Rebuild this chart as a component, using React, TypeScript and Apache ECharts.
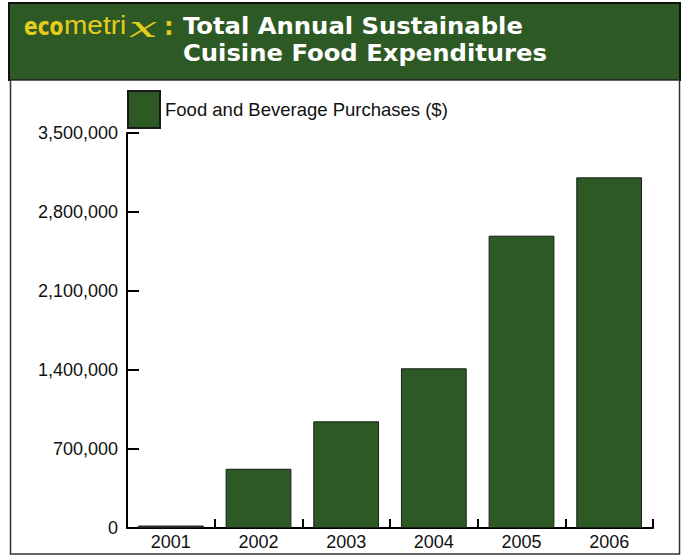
import React, { useEffect, useRef } from "react";
import * as echarts from "echarts";

const years = ["2001", "2002", "2003", "2004", "2005", "2006"];
const purchases = [22000, 525000, 945000, 1415000, 2590000, 3107000];
const seriesName = "Food and Beverage Purchases ($)";
const titleLines = ["Total Annual Sustainable", "Cuisine Food Expenditures"];

const GREEN = "#2d5925";
const YELLOW = "#e6cc1c";

export default function App() {
  const ref = useRef<HTMLDivElement>(null);
  useEffect(() => {
    if (!ref.current) return;
    const chart = echarts.init(ref.current, null, { renderer: "svg" });
    const titleText = (text: string, y: number) => ({
      type: "text",
      z: 5,
      x: 183,
      y,
      scaleX: 1.056,
      style: {
        text,
        x: 0,
        y: 0,
        fill: "#ffffff",
        fontSize: 23,
        fontWeight: "bold",
        lineHeight: 23,
        fontFamily: "'DejaVu Sans', sans-serif",
        verticalAlign: "middle",
      },
    });
    chart.setOption({
      animation: false,
      backgroundColor: "#ffffff",
      graphic: [
        {
          type: "rect",
          z: 0,
          shape: { x: 9, y: 3, width: 671, height: 77 },
          style: { fill: GREEN, stroke: "#111", lineWidth: 2 },
        },
        {
          type: "rect",
          z: 0,
          shape: { x: 10.5, y: 80, width: 669, height: 474 },
          style: { fill: "#ffffff", stroke: "#333", lineWidth: 1.5 },
        },
        {
          type: "text",
          z: 5,
          x: 24,
          y: 26,
          scaleX: 0.84,
          style: {
            text: "eco",
            x: 0,
            y: 0,
            fill: YELLOW,
            fontSize: 24,
            fontWeight: "bold",
            lineHeight: 22,
            fontFamily: "'DejaVu Sans', sans-serif",
            verticalAlign: "middle",
          },
        },
        {
          type: "text",
          z: 5,
          x: 64,
          y: 26,
          scaleX: 1.12,
          style: {
            text: "metri",
            x: 0,
            y: 0,
            fill: YELLOW,
            fontSize: 25,
            fontWeight: "normal",
            lineHeight: 22,
            fontFamily: "'Liberation Sans', Arial, sans-serif",
            verticalAlign: "middle",
          },
        },
        {
          type: "text",
          z: 5,
          x: 129,
          y: 27,
          scaleX: 1.8,
          style: {
            text: "x",
            x: 0,
            y: 0,
            fill: YELLOW,
            fontSize: 28,
            fontStyle: "italic",
            lineHeight: 22,
            fontFamily: "'DejaVu Serif', serif",
            verticalAlign: "middle",
          },
        },
        {
          type: "text",
          z: 5,
          x: 164,
          y: 27,
          style: {
            text: ":",
            x: 0,
            y: 0,
            fill: YELLOW,
            fontSize: 24,
            fontWeight: "bold",
            lineHeight: 22,
            fontFamily: "'DejaVu Sans', sans-serif",
            verticalAlign: "middle",
          },
        },
        titleText(titleLines[0], 26.5),
        titleText(titleLines[1], 53.5),
      ],
      legend: {
        show: true,
        left: 127,
        top: 90,
        padding: 0,
        itemWidth: 32,
        itemHeight: 37,
        itemGap: 6,
        icon: "rect",
        textStyle: {
          fontSize: 18.5,
          color: "#111",
          fontFamily: "'Liberation Sans', Arial, sans-serif",
        },
        data: [seriesName],
      },
      grid: { left: 127, right: 28, top: 133, bottom: 28, containLabel: false },
      xAxis: {
        type: "category",
        data: years,
        boundaryGap: true,
        axisLine: { show: true, lineStyle: { color: "#000", width: 2 } },
        axisTick: { show: true, inside: true, length: 9, lineStyle: { color: "#000", width: 2 } },
        axisLabel: {
          fontSize: 18,
          color: "#111",
          margin: 5,
          fontFamily: "'Liberation Sans', Arial, sans-serif",
        },
      },
      yAxis: {
        type: "value",
        min: 0,
        max: 3500000,
        interval: 700000,
        splitLine: { show: false },
        axisLine: { show: true, lineStyle: { color: "#000", width: 2 } },
        axisTick: { show: true, inside: true, length: 12, lineStyle: { color: "#000", width: 2 } },
        axisLabel: {
          fontSize: 18,
          color: "#111",
          margin: 9,
          fontFamily: "'Liberation Sans', Arial, sans-serif",
          formatter: (v: number) => v.toLocaleString("en-US"),
        },
      },
      series: [
        {
          name: seriesName,
          type: "bar",
          data: purchases,
          barWidth: "75%",
          itemStyle: { color: GREEN, borderColor: "#1a1a1a", borderWidth: 1 },
        },
      ],
    });
    return () => chart.dispose();
  }, []);
  return (
    <div
      ref={ref}
      style={{ position: "fixed", left: 0, top: 0, width: 681, height: 556 }}
    />
  );
}
